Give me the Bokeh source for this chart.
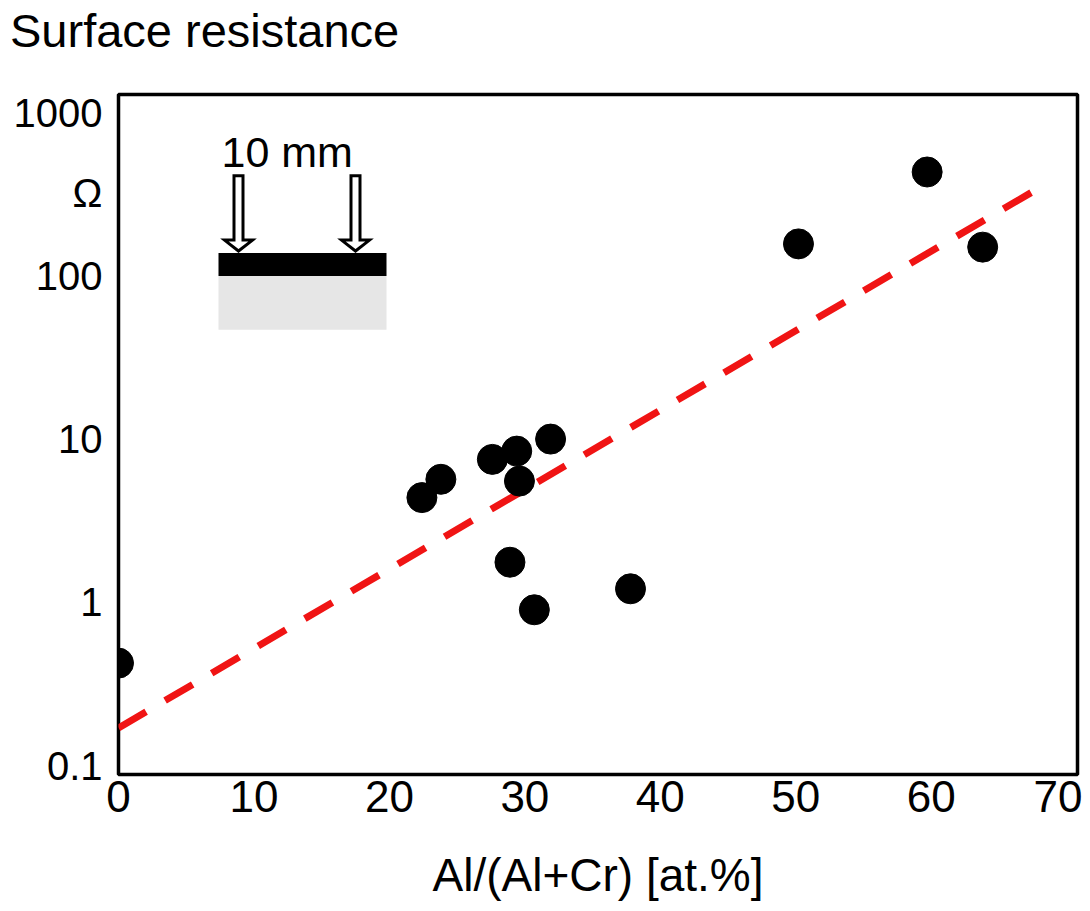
import numpy as np
from bokeh.plotting import figure
from bokeh.layouts import column
from bokeh.models import FixedTicker, CustomJSTickFormatter, Label, Range1d, Div
from bokeh.embed import file_html
from bokeh.resources import INLINE

# ---- data ----
al_fraction = [0.0, 22.4, 23.8, 27.6, 29.4, 29.6, 31.9, 28.9, 30.7, 37.8, 50.2, 59.7, 63.8]
resistance = [0.424, 4.38, 5.67, 7.51, 8.44, 5.53, 10.0, 1.76, 0.90, 1.21, 157, 433, 150]
fit_x = [0.0, 68.3]
fit_y = [0.170, 359]
x_ticks = [0, 10, 20, 30, 40, 50, 60, 70]
y_ticks = [0.1, 1, 10, 100, 1000]

# ---- layout ----
X0, X1 = 0.0, 70.8
Y0, Y1 = 0.0881, 1292.0
FL, FR, FT, FB = 118, 1077, 94, 776   # frame in picture pixels
W, H = 1082, 903
TH = 60                               # height of the title strip
FONT = "Liberation Sans"

def X(px):
    return X0 + (px - FL) / (FR - FL) * (X1 - X0)

def Y(py):
    lt, lb = np.log10(Y1), np.log10(Y0)
    return 10 ** (lt - (py - FT) / (FB - FT) * (lt - lb))

title = Div(text="Surface resistance", width=W, height=TH, margin=(0, 0, 0, 0),
            styles={"font-family": FONT, "font-size": "47px", "line-height": "1",
                    "padding-left": "10px", "padding-top": "7px", "color": "black",
                    "white-space": "nowrap"})

p = figure(width=W, height=H - TH, x_range=Range1d(X0, X1), y_range=Range1d(Y0, Y1),
           y_axis_type="log", output_backend="svg", toolbar_location=None,
           min_border_left=FL, min_border_right=W - FR,
           min_border_top=FT - TH, min_border_bottom=H - FB, margin=(0, 0, 0, 0))
p.xgrid.visible = False
p.ygrid.visible = False
p.outline_line_color = "black"
p.outline_line_width = 3.5
p.background_fill_color = "white"
p.border_fill_color = "white"

for ax in (p.xaxis[0], p.yaxis[0]):
    ax.axis_line_color = None
    ax.major_tick_line_color = None
    ax.minor_tick_line_color = None
    ax.major_tick_out = 0
    ax.major_tick_in = 0
    ax.minor_tick_out = 0
    ax.major_label_text_font = FONT
    ax.major_label_text_color = "black"

p.xaxis.ticker = FixedTicker(ticks=x_ticks)
p.xaxis.major_label_text_font_size = "44px"
p.xaxis.major_label_standoff = 6
p.xaxis.axis_label = "Al/(Al+Cr) [at.%]"
p.xaxis.axis_label_text_font = FONT
p.xaxis.axis_label_text_font_size = "46px"
p.xaxis.axis_label_text_font_style = "normal"
p.xaxis.axis_label_text_color = "black"
p.xaxis.axis_label_standoff = 34

# unit symbol "Ω" shown as an extra label on the y axis, between 100 and 1000
omega_at = float(Y(193))
p.yaxis.ticker = FixedTicker(ticks=sorted(y_ticks + [omega_at]))
p.yaxis.formatter = CustomJSTickFormatter(args=dict(om=omega_at), code="""
    if (Math.abs(Math.log10(tick) - Math.log10(om)) < 0.01) return "\u03a9";
    return tick < 1 ? tick.toFixed(1) : tick.toFixed(0);
""")
p.yaxis.major_label_text_font_size = "40px"
p.yaxis.major_label_standoff = 16

# ---- inset drawing ----
p.quad(left=X(218), right=X(386), top=Y(276), bottom=Y(330), color="#e6e6e6", line_color=None)
p.quad(left=X(218), right=X(386), top=Y(253), bottom=Y(276), color="black", line_color=None)
for cx in (238, 355):
    xs = [X(cx - 4.5), X(cx + 4.5), X(cx + 4.5), X(cx + 14), X(cx), X(cx - 14), X(cx - 4.5)]
    ys = [Y(175.5), Y(175.5), Y(240), Y(240), Y(251), Y(240), Y(240)]
    p.patch(xs, ys, fill_color="white", line_color="black", line_width=3, line_join="miter")

# ---- fit line and points ----
p.line(fit_x, fit_y, line_color="#f01414", line_width=7, line_dash="32 22")
p.scatter(al_fraction, resistance, size=30, color="black")

# ---- texts ----
p.add_layout(Label(x=X(221), y=Y(152), text="10 mm", text_font=FONT, text_font_size="43px",
                   text_baseline="alphabetic", text_align="left", text_color="black"))

layout = column(title, p, spacing=0, margin=(0, 0, 0, 0))
open("out.html", "w").write(file_html(layout, INLINE))
